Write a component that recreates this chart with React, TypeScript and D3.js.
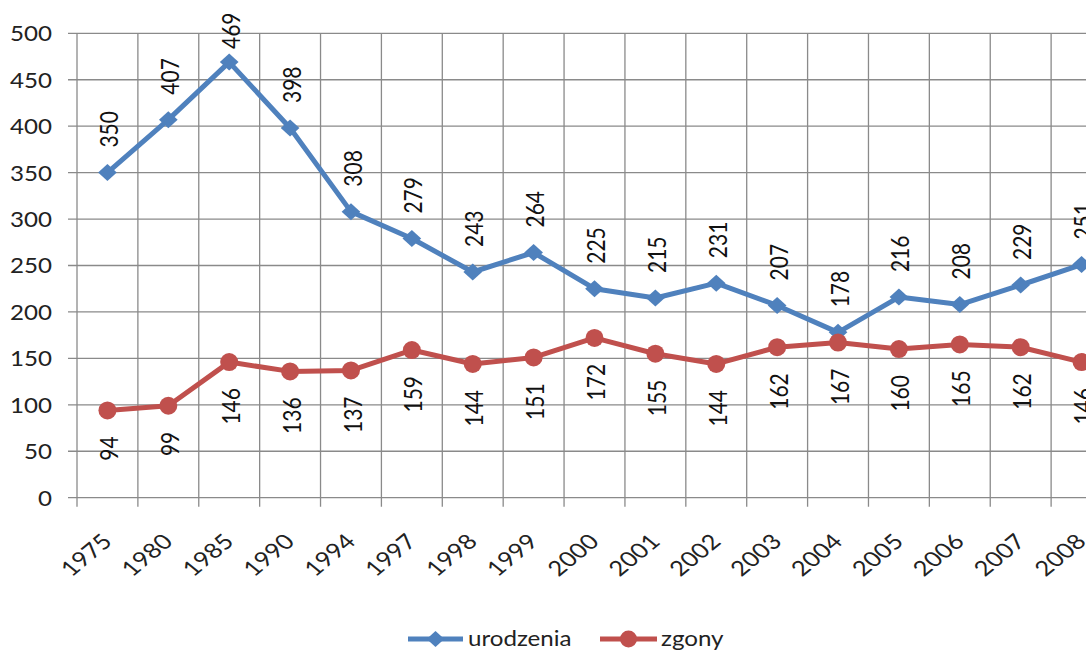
import React from "react";
import * as d3 from "d3";

const years = ["1975","1980","1985","1990","1994","1997","1998","1999","2000","2001","2002","2003","2004","2005","2006","2007","2008"];
const urodzenia = [350,407,469,398,308,279,243,264,225,215,231,207,178,216,208,229,251];
const zgony = [94,99,146,136,137,159,144,151,172,155,144,162,167,160,165,162,146];
const yTicks = [0,50,100,150,200,250,300,350,400,450,500];

const W = 1086, H = 650;
const left = 77, right = 1112, top = 33.3, bottom = 497.7;
const BLUE = "#4F81BD", RED = "#C0504D", GRID = "#8a8a8a";
const FONT = "Lato, 'Open Sans', sans-serif";
const SX = 1.15;
const FS = 21;

export default function App() {
  const x = d3.scaleBand<string>().domain(years).range([left, right]).paddingInner(0).paddingOuter(0);
  const cx = (d: string) => (x(d) as number) + x.bandwidth() / 2;
  const y = d3.scaleLinear().domain([0, 500]).range([bottom, top]);
  const line = d3.line<number>().x((_, i) => cx(years[i])).y(d => y(d));
  const diamond = (px: number, py: number, r: number) => `M${px},${py - r}L${px + r * 1.1},${py}L${px},${py + r}L${px - r * 1.1},${py}Z`;
  const bounds = [...years.map(d => x(d) as number), right];

  return (
    <svg width={W} height={H} style={{ position: "fixed", left: 0, top: 0, background: "#fff" }} fontFamily={FONT}>
      {yTicks.map(t => (
        <g key={"h" + t}>
          <line x1={left - 9} x2={right} y1={y(t)} y2={y(t)} stroke={GRID} strokeWidth={1.3} />
          <text transform={`translate(52,${y(t)}) scale(${SX},1)`} textAnchor="end" dominantBaseline="central" fontSize={FS} fill="#222">{t}</text>
        </g>
      ))}
      {bounds.map((b, i) => (
        <line key={"v" + i} x1={b} x2={b} y1={top} y2={bottom + 9} stroke={GRID} strokeWidth={1.3} />
      ))}
      {years.map(d => (
        <text key={"xl" + d} transform={`translate(${cx(d) + 6},${543}) scale(1.22,1) rotate(-45)`} textAnchor="end" fontSize={FS} fill="#222">{d}</text>
      ))}
      <path d={line(urodzenia) as string} fill="none" stroke={BLUE} strokeWidth={5} strokeLinejoin="round" />
      <path d={line(zgony) as string} fill="none" stroke={RED} strokeWidth={5} strokeLinejoin="round" />
      {urodzenia.map((v, i) => (
        <path key={"d" + i} d={diamond(cx(years[i]), y(v), 8.5)} fill={BLUE} />
      ))}
      {zgony.map((v, i) => (
        <circle key={"c" + i} cx={cx(years[i])} cy={y(v)} r={9} fill={RED} />
      ))}
      {urodzenia.map((v, i) => {
        const base = Math.max(y(v) - 25, 49);
        return (
          <text key={"ul" + i} transform={`translate(${cx(years[i]) + 1.5},${base}) scale(${SX},1) rotate(-90)`} textAnchor="start" dominantBaseline="central" fontSize={FS} fill="#111">{v}</text>
        );
      })}
      {zgony.map((v, i) => (
        <text key={"zl" + i} transform={`translate(${cx(years[i]) + 1.5},${y(v) + 26}) scale(${SX},1) rotate(-90)`} textAnchor="end" dominantBaseline="central" fontSize={FS} fill="#111">{v}</text>
      ))}
      <g>
        <line x1={408} x2={463} y1={639} y2={639} stroke={BLUE} strokeWidth={5} />
        <path d={diamond(435.5, 639, 8)} fill={BLUE} />
        <text transform={`translate(468,646) scale(${SX},1)`} fontSize={FS} fill="#222">urodzenia</text>
        <line x1={600} x2={657} y1={639} y2={639} stroke={RED} strokeWidth={5} />
        <circle cx={628.5} cy={639} r={8.5} fill={RED} />
        <text transform={`translate(661,646) scale(${SX},1)`} fontSize={FS} fill="#222">zgony</text>
      </g>
    </svg>
  );
}
